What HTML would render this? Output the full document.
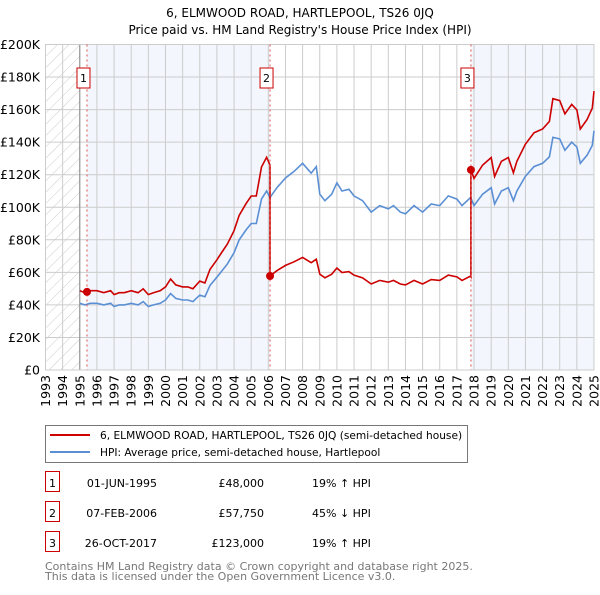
<!DOCTYPE html>
<html><head><meta charset="utf-8"><style>
body{margin:0;background:#fff;font-family:"Liberation Sans","DejaVu Sans",sans-serif;}
svg text{font-family:"DejaVu Sans","Liberation Sans",sans-serif;}
</style></head><body>
<svg id="c" width="600" height="590" viewBox="0 0 600 590"></svg>
<script>
const years=[1993,1994,1995,1996,1997,1998,1999,2000,2001,2002,2003,2004,2005,2006,2007,2008,2009,2010,2011,2012,2013,2014,2015,2016,2017,2018,2019,2020,2021,2022,2023,2024,2025];
const yTicks=[0,20,40,60,80,100,120,140,160,180,200];
const hpiT=[1995.0,1995.3,1995.6,1996.0,1996.4,1996.8,1997.0,1997.3,1997.6,1998.0,1998.4,1998.7,1999.0,1999.3,1999.7,2000.0,2000.3,2000.6,2001.0,2001.3,2001.6,2002.0,2002.3,2002.6,2003.0,2003.3,2003.6,2004.0,2004.3,2004.7,2005.0,2005.3,2005.6,2005.9,2006.1,2006.5,2007.0,2007.5,2008.0,2008.5,2008.8,2009.0,2009.3,2009.7,2010.0,2010.3,2010.7,2011.0,2011.5,2012.0,2012.5,2013.0,2013.3,2013.7,2014.0,2014.5,2015.0,2015.5,2016.0,2016.5,2017.0,2017.3,2017.8,2018.0,2018.5,2019.0,2019.2,2019.6,2020.0,2020.3,2020.5,2021.0,2021.5,2022.0,2022.4,2022.6,2023.0,2023.3,2023.7,2024.0,2024.2,2024.6,2024.9,2025.0];
const hpiV=[41,40,41,41,40,41,39,40,40,41,40,42,39,40,41,43,47,44,43,43,42,46,45,52,57,61,65,72,80,86,90,90,105,110,106,112,118,122,127,121,125,108,104,108,115,110,111,107,104,97,101,99,101,97,96,101,97,102,101,107,105,101,106,101,108,112,102,110,112,104,110,119,125,127,131,143,142,135,140,137,127,132,138,147];
const saleT=[1995.42,2006.1,2017.82];
const saleP=[48,57.75,123];
const x0=45.5,x1=594,y0=370,y1=44.5;
const sx=v=>x0+(v-1993)/(2025-1993)*(x1-x0);
const sy=v=>y0-v/200*(y0-y1);
const svg=document.getElementById('c');const NS='http://www.w3.org/2000/svg';
function mk(t,a,p){const e=document.createElementNS(NS,t);for(const k in a)e.setAttribute(k,a[k]);(p||svg).appendChild(e);return e;}
function txt(s,a){const e=mk('text',a);e.textContent=s;return e;}
const t1=txt('6, ELMWOOD ROAD, HARTLEPOOL, TS26 0JQ',{x:300,y:17,'text-anchor':'middle','font-size':12,fill:'#000'});

const t2=txt("Price paid vs. HM Land Registry's House Price Index (HPI)",{x:300,y:34,'text-anchor':'middle','font-size':12,fill:'#000'});

const defs=mk('defs',{});const pat=mk('pattern',{id:'h',width:8,height:8,patternUnits:'userSpaceOnUse',patternTransform:'rotate(45)'},defs);
mk('line',{x1:0,y1:0,x2:0,y2:8,stroke:'#ccc','stroke-width':1},pat);
const hat=mk('rect',{x:x0,y:y1,width:sx(1995)-x0,height:y0-y1,fill:'url(#h)'});

const s1=mk('rect',{x:sx(saleT[0]),y:y1,width:sx(saleT[1])-sx(saleT[0]),height:y0-y1,fill:'#f3f6fd'});

const s3=mk('rect',{x:sx(saleT[2]),y:y1,width:x1-sx(saleT[2]),height:y0-y1,fill:'#f3f6fd'});

years.forEach(y=>{const l=mk('line',{x1:sx(y),x2:sx(y),y1:y1,y2:y0,stroke:'#ccc','stroke-width':1});

const t=txt(String(y),{transform:`translate(${sx(y)+4.5},${y0+5}) rotate(-90)`,'text-anchor':'end','font-size':12.5,fill:'#000'});
});
yTicks.forEach(v=>{const l=mk('line',{x1:x0,x2:x1,y1:sy(v),y2:sy(v),stroke:'#ccc','stroke-width':1});

const t=txt(v===0?'£0':'£'+v+'K',{x:40,y:sy(v)+4.5,'text-anchor':'end','font-size':12.5,fill:'#000'});
});
const ax=mk('line',{x1:sx(1995),x2:sx(1995),y1:y1,y2:y0,stroke:'#888'});

const fr=mk('rect',{x:x0,y:y1,width:x1-x0,height:y0-y1,fill:'none',stroke:'#ccc'});

function hpiAt(t){for(let i=0;i<hpiT.length-1;i++){if(t<=hpiT[i+1]){const f=(t-hpiT[i])/(hpiT[i+1]-hpiT[i]);return hpiV[i]+f*(hpiV[i+1]-hpiV[i]);}}return hpiV[hpiV.length-1];}
const bp=hpiT.map((t,i)=>sx(t).toFixed(1)+','+sy(hpiV[i]).toFixed(1)).join(' ');
const bl=mk('polyline',{points:bp,fill:'none',stroke:'#5b8fd4','stroke-width':1.6});

const ratios=saleT.map((t,i)=>saleP[i]/hpiAt(t));
let rp=[];
hpiT.forEach((t,i)=>{let seg=0;if(t>=saleT[1])seg=1;if(t>=saleT[2])seg=2;
if(i>0&&hpiT[i-1]<saleT[seg]&&t>=saleT[seg]&&seg>0){const pv=hpiAt(saleT[seg]);rp.push([saleT[seg],pv*ratios[seg-1]]);rp.push([saleT[seg],saleP[seg]]);}
rp.push([t,hpiV[i]*ratios[seg]]);});
const rl=mk('polyline',{points:rp.map(p=>sx(p[0]).toFixed(1)+','+sy(p[1]).toFixed(1)).join(' '),fill:'none',stroke:'#cc0000','stroke-width':1.6});

saleT.forEach((t,i)=>{const vl=mk('line',{x1:sx(t),x2:sx(t),y1:y1,y2:y0,stroke:'#e05050','stroke-width':1,'stroke-dasharray':'2,3'});

const d=mk('circle',{cx:sx(t),cy:sy(saleP[i]),r:4,fill:'#cc0000'});

const g=mk('g',{});
mk('rect',{x:sx(t)-10,y:68,width:13,height:20,fill:'#fff',stroke:'#cc0000'},g);
const tt=mk('text',{x:sx(t)-3.5,y:82,'text-anchor':'middle','font-size':11,fill:'#000'},g);tt.textContent=String(i+1);});
const lg=mk('g',{});
mk('rect',{x:45.5,y:425.5,width:422,height:37,fill:'#fff',stroke:'#777'},lg);
mk('line',{x1:50,x2:90,y1:435,y2:435,stroke:'#cc0000','stroke-width':2},lg);
mk('line',{x1:50,x2:90,y1:452,y2:452,stroke:'#5b8fd4','stroke-width':2},lg);
let a=mk('text',{x:100,y:439,'font-size':10.6},lg);a.textContent='6, ELMWOOD ROAD, HARTLEPOOL, TS26 0JQ (semi-detached house)';
a=mk('text',{x:100,y:456,'font-size':10.6},lg);a.textContent='HPI: Average price, semi-detached house, Hartlepool';
const rows=[['1','01-JUN-1995','£48,000','19% ↑ HPI'],['2','07-FEB-2006','£57,750','45% ↓ HPI'],['3','26-OCT-2017','£123,000','19% ↑ HPI']];
rows.forEach((r,i)=>{const y=487+i*30;const g=mk('g',{});
mk('rect',{x:45.5,y:y-15.5,width:14,height:20,fill:'#fff',stroke:'#cc0000'},g);
let e=mk('text',{x:52.5,y:y,'text-anchor':'middle','font-size':11},g);e.textContent=r[0];
e=mk('text',{x:157,y:y,'text-anchor':'end','font-size':11},g);e.textContent=r[1];
e=mk('text',{x:264,y:y,'text-anchor':'end','font-size':11},g);e.textContent=r[2];
e=mk('text',{x:312,y:y,'font-size':11},g);e.textContent=r[3];});
const f1=txt('Contains HM Land Registry data © Crown copyright and database right 2025.',{x:45,y:570,'font-size':11,fill:'#777'});

const f2=txt('This data is licensed under the Open Government Licence v3.0.',{x:45,y:580,'font-size':11,fill:'#777'});

</script>
</body></html>
